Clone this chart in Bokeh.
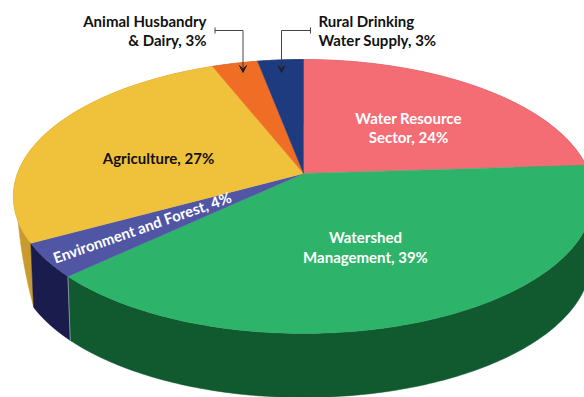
import numpy as np
from bokeh.embed import file_html
from bokeh.models import Arrow, Range1d, VeeHead
from bokeh.plotting import figure
from bokeh.resources import INLINE
from bokeh.core.properties import value

# Budget shares, clockwise from twelve o'clock
sectors = ["Water Resource Sector", "Watershed Management", "Environment and Forest",
           "Agriculture", "Animal Husbandry & Dairy", "Rural Drinking Water Supply"]
shares = [24, 39, 4, 27, 3, 3]
top_colors = ["#F46D75", "#2DB46A", "#5056A4", "#F0C13A", "#F06D26", "#1F3B80"]
wall_colors = ["#B84F55", "#115A30", "#1B1C4E", "#C99A2E", "#B8511C", "#162B5E"]

FONT = value("Lato")

# Perspective disc: unit circle mapped to the page, apex of the pie at (CX, CY)
CX, CY = 303.0, 173.0
A, B, K = 286.0, 133.1, 0.168
DEPTH, SHRINK = 64.0, 0.99
# The wall thins out to nothing along the left edge between these two bearings
TAPER_START, TAPER_END = np.radians(241.0), np.radians(256.0)


def rim(theta, lower=False):
    u, v = np.sin(theta), np.cos(theta)
    d = 1 + K * v
    x, y = A * u / d, -B * v / d
    if lower:
        fade = np.clip((TAPER_END - theta) / (TAPER_END - TAPER_START), 0, 1)
        fade = np.where((theta < TAPER_START), 1.0, fade)
        return CX + x * SHRINK, CY + y + DEPTH * fade
    return CX + x, CY + y


p = figure(width=584, height=397, x_range=Range1d(0, 584), y_range=Range1d(397, 0),
           output_backend="svg", toolbar_location=None, min_border=0,
           outline_line_color=None, background_fill_color="white")
p.axis.visible = False
p.grid.visible = False

edges = np.cumsum([0] + shares) / sum(shares) * 2 * np.pi

# Side walls first, then the top faces over them
for i in [0, 5, 4, 3, 2, 1]:
    t = np.linspace(edges[i], edges[i + 1], 160)
    ux, uy = rim(t)
    lx, ly = rim(t, lower=True)
    p.patch(np.r_[ux, lx[::-1]], np.r_[uy, ly[::-1]], fill_color=wall_colors[i],
            line_color=wall_colors[i], line_width=0.5)

# Pale seam where the blue and green walls meet
sx0, sy0 = rim(edges[2])
sx1, sy1 = rim(edges[2], lower=True)
p.line([sx0, sx1], [sy0, sy1], line_color="#8A8FA0", line_width=1)

for i in range(len(shares)):
    t = np.linspace(edges[i], edges[i + 1], 160)
    ux, uy = rim(t)
    p.patch(np.r_[CX, ux], np.r_[CY, uy], fill_color=top_colors[i],
            line_color=top_colors[i], line_width=0.4)

# Slice labels: (text, x, baseline y, alignment, colour, angle)
labels = [
    ("Animal Husbandry", 206, 20.5, "right", "#111111", 0),
    ("& Dairy, 3%", 206, 39, "right", "#111111", 0),
    ("Rural Drinking", 318, 20.5, "left", "#111111", 0),
    ("Water Supply, 3%", 318, 39, "left", "#111111", 0),
    ("Water Resource", 408, 117.5, "center", "white", 0),
    ("Sector, 24%", 408, 136.5, "center", "white", 0),
    ("Agriculture, 27%", 158, 157.5, "center", "#111111", 0),
    ("Watershed", 365, 236.5, "center", "white", 0),
    ("Management, 39%", 365, 256, "center", "white", 0),
    ("Environment and Forest, 4%", 53, 257.5, "left", "white", 0.335),
]
for text, x, y, align, color, angle in labels:
    p.text([x], [y], text=[text], text_font=FONT, text_font_style="bold",
           text_font_size="15px", text_align=align, text_baseline="alphabetic",
           text_color=color, angle=angle)

# Leader lines for the two narrow slices
for tick_x, stem_x in [(214.5, 242.5), (310.0, 281.0)]:
    p.line([tick_x, stem_x, stem_x], [30, 30, 60], line_color="#444444", line_width=1)
    p.line([tick_x, tick_x], [27, 33], line_color="#444444", line_width=1)
    p.add_layout(Arrow(end=VeeHead(size=7, line_color="#222222", fill_color="#222222", line_width=1),
                       x_start=stem_x, y_start=60, x_end=stem_x, y_end=72,
                       line_color="#333333", line_width=1))

open("out.html", "w").write(file_html(p, INLINE))
